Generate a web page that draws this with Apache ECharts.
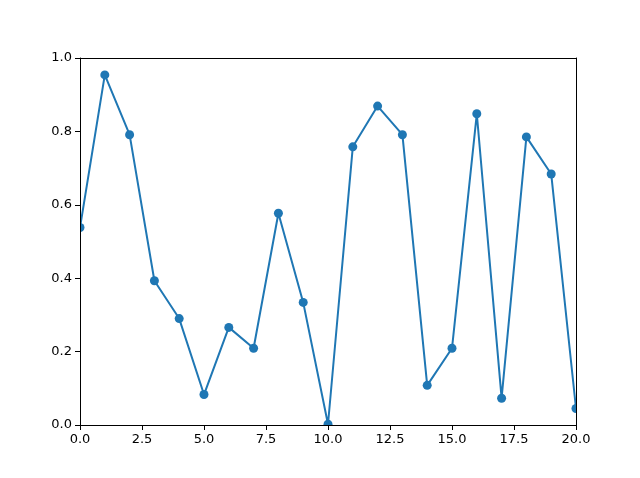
<!DOCTYPE html>
<html><head><meta charset="utf-8">
<script src="https://cdn.jsdelivr.net/npm/echarts@6/dist/echarts.min.js"></script>
<style>html,body{margin:0;padding:0;background:#fff}#c{width:640px;height:478px}</style>
</head><body><div id="c"></div>
<script>
const xs = [0,1,2,3,4,5,6,7,8,9,10,11,12,13,14,15,16,17,18,19,20];
const ys = [0.538,0.954,0.791,0.393,0.290,0.083,0.266,0.209,0.577,0.334,0.002,0.758,0.869,0.791,0.108,0.209,0.848,0.073,0.785,0.684,0.045];
const xTicks = [0,2.5,5,7.5,10,12.5,15,17.5,20];
const yTicks = [0,0.2,0.4,0.6,0.8,1.0];

const chart = echarts.init(document.getElementById('c'), null, {renderer:'canvas'});
const font = 'DejaVu Sans';
const G = {left:80,right:64,top:58,bottom:53};
const W = 640, H = 478;
const mask = (x,y,w,h)=>({type:'rect',z:50,silent:true,shape:{x,y,width:w,height:h},style:{fill:'#fff'}});
const plainAxis = (extra)=>Object.assign({
  axisLine:{show:true,onZero:false,lineStyle:{color:'#000',width:1}},
  axisTick:{show:false},axisLabel:{show:false},splitLine:{show:false},z:100},extra);
chart.setOption({
  animation:false,
  backgroundColor:'#fff',
  grid:Object.assign({show:false},G),
  graphic:[
    mask(0,0,G.left,H), mask(W-G.right,0,G.right,H),
    mask(0,0,W,G.top), mask(0,H-G.bottom,W,G.bottom)
  ],
  xAxis:[{type:'value',min:0,max:20,interval:2.5,z:100,position:'bottom',
    axisLine:{show:true,onZero:false,lineStyle:{color:'#000',width:1}},
    axisTick:{show:true,length:5,lineStyle:{color:'#000'}},
    splitLine:{show:false},
    axisLabel:{color:'#000',fontFamily:font,fontSize:13,margin:8,formatter:v=>v.toFixed(1)}},
    plainAxis({type:'value',min:0,max:20,position:'top'})],
  yAxis:[{type:'value',min:0,max:1,interval:0.2,z:100,position:'left',
    axisLine:{show:true,onZero:false,lineStyle:{color:'#000',width:1}},
    axisTick:{show:true,length:5,lineStyle:{color:'#000'}},
    splitLine:{show:false},
    axisLabel:{color:'#000',fontFamily:font,fontSize:13,margin:8,formatter:v=>v.toFixed(1)}},
    plainAxis({type:'value',min:0,max:1,position:'right'})],
  series:[{type:'line',data:xs.map((x,i)=>[x,ys[i]]),clip:true,z:2,
    symbol:'circle',symbolSize:9,showAllSymbol:true,
    itemStyle:{color:'#1f77b4'},lineStyle:{color:'#1f77b4',width:2}}]
});
</script></body></html>
